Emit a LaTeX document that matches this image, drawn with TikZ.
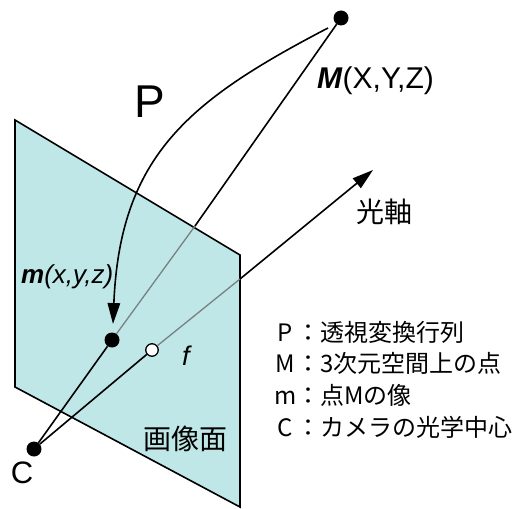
\documentclass[tikz,border=0pt]{standalone}
\usepackage{fontspec}
\setmainfont{Liberation Sans}
\newfontfamily\jpfont{Noto Sans CJK JP}
\usetikzlibrary{arrows.meta}
\definecolor{planefill}{RGB}{192,231,231}
\definecolor{raygray}{RGB}{120,128,128}
\newcommand{\rowkey}[1]{\makebox[22pt][c]{#1}}
\tikzset{
  plane/.style    = {draw=black, line width=1.6pt, fill=planefill},
  ray/.style      = {draw=black, line width=1.6pt},
  inray/.style    = {draw=raygray, line width=1.3pt},
  bigarrow/.style = {-{Triangle[length=21pt,width=12.5pt]}, line width=1.6pt},
  dot/.style      = {circle, inner sep=0pt, minimum size=15pt, fill=black},
  hollowdot/.style= {circle, inner sep=0pt, minimum size=12.5pt, fill=white, draw=black, line width=1.3pt},
  jplabel/.style  = {font=\jpfont\fontsize{28}{32}\selectfont, inner sep=0pt},
  keyrow/.style   = {font=\jpfont\fontsize{24}{28}\selectfont, inner sep=0pt, anchor=base west},
  latlabel/.style = {font=\fontsize{#1}{#1}\selectfont, inner sep=0pt},
}
\begin{document}
\begin{tikzpicture}[x=1pt, y=-1pt]

  \useasboundingbox (0,0) rectangle (516,508);

  % image plane
  \draw[plane] (15,120) -- (240,255) -- (240,507) -- (15,387) -- cycle;

  % points
  \node[dot] (bigM) at (341,18) {};
  \node[dot] (smallm) at (112,340) {};
  \node[dot] (camC) at (34,449) {};
  \node[hollowdot] (focal) at (152,350) {};

  % where the rays leave the plane
  \coordinate (rayexit) at (195,226);
  \coordinate (axisexit) at (240,279);
  \coordinate (axistip) at (373,170);
  \coordinate (ptail) at (328,28);
  \coordinate (ptip) at (113,324);

  % rays
  \draw[ray] (camC) -- (smallm);
  \draw[ray] (camC) -- (focal);
  \draw[inray] (smallm) -- (rayexit);
  \draw[ray] (rayexit) -- (bigM);
  \draw[inray] (focal) -- (axisexit);
  \draw[ray, bigarrow] (axisexit) -- (axistip);

  % projection P
  \draw[ray, bigarrow] (ptail) .. controls (190,100) and (120,155) .. (ptip);

  % labels
  \node[latlabel=46] (labelP) at (150,102) {P};
  \node[latlabel=30, anchor=base west] (labelM) at (317,89) {\textbf{\textit{M}}(X,Y,Z)};
  \node[latlabel=26, anchor=base west] (labelm) at (21,283) {\textbf{\textit{m}}\textit{(x,y,z)}};
  \node[latlabel=27] (labelf) at (187,356) {\textit{f}};
  \node[latlabel=31] (labelC) at (22,473) {C};
  \node[jplabel] (labelaxis) at (384,212) {光軸};
  \node[jplabel] (labelplane) at (185,439) {画像面};

  % legend
  \node[keyrow] (rowP) at (274,341) {\rowkey{P}：透視変換行列};
  \node[keyrow] (rowM) at (274,372) {\rowkey{M}：3次元空間上の点};
  \node[keyrow] (rowm) at (274,404) {\rowkey{m}：点Mの像};
  \node[keyrow] (rowC) at (274,436) {\rowkey{C}：カメラの光学中心};

\end{tikzpicture}
\end{document}
